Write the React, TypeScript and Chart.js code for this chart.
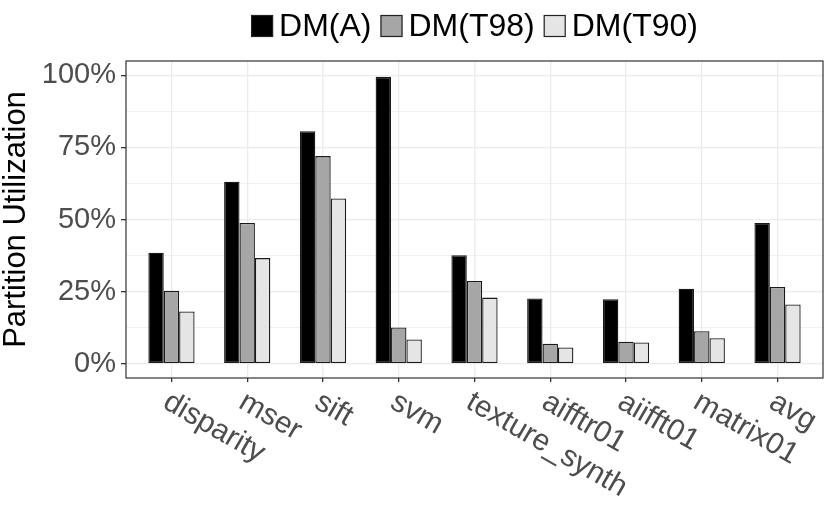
import { useEffect, useRef } from 'react'
import { Chart, registerables } from 'chart.js'

Chart.register(...registerables)

const categories = ['disparity', 'mser', 'sift', 'svm', 'texture_synth', 'aifftr01', 'aiifft01', 'matrix01', 'avg']
const seriesNames = ['DM(A)', 'DM(T98)', 'DM(T90)']
const dmA = [38.5, 63.1, 80.6, 99.5, 37.6, 22.6, 22.3, 26.0, 48.8]
const dmT98 = [25.3, 48.8, 72.0, 12.5, 28.7, 6.9, 7.6, 11.2, 26.6]
const dmT90 = [18.1, 36.6, 57.3, 8.4, 22.9, 5.6, 7.3, 8.8, 20.5]
const seriesColors = ['#000000', '#A6A6A6', '#E5E5E5']
const yTicks = [0, 12.5, 25, 37.5, 50, 62.5, 75, 87.5, 100]

const FONT = '"Liberation Sans", Arial, Helvetica, sans-serif'

// panel frame drawn over the bars, like ggplot's panel.border
const panelBorder = {
  id: 'panelBorder',
  afterDatasetsDraw(chart) {
    const { ctx, chartArea: a } = chart
    ctx.save()
    ctx.strokeStyle = '#333333'
    ctx.lineWidth = 1.2
    ctx.strokeRect(a.left, a.top, a.right - a.left, a.bottom - a.top)
    ctx.restore()
  },
}

// rotated x labels (text runs down to the right from the tick)
const slantedLabels = {
  id: 'slantedLabels',
  afterDraw(chart) {
    const { ctx } = chart
    const x = chart.scales.x
    const angle = (30 * Math.PI) / 180
    ctx.save()
    ctx.font = `30px ${FONT}`
    ctx.fillStyle = '#4D4D4D'
    ctx.textAlign = 'left'
    ctx.textBaseline = 'alphabetic'
    categories.forEach((c, i) => {
      const px = x.getPixelForValue(i + 1)
      ctx.save()
      ctx.translate(px - 10, 407)
      ctx.rotate(angle)
      ctx.fillText(c, 0, 0)
      ctx.restore()
    })
    ctx.restore()
  },
}

// legend on top: keys touching the labels, centred on the panel
const topLegend = {
  id: 'topLegend',
  afterDraw(chart) {
    const { ctx, chartArea: a } = chart
    const key = 22
    const gap = 6
    const spacing = 9
    ctx.save()
    ctx.font = `32px ${FONT}`
    const widths = seriesNames.map((s) => ctx.measureText(s).width)
    const total = widths.reduce((s, w) => s + key + gap + w, 0) + spacing * (seriesNames.length - 1)
    let x = (a.left + a.right) / 2 - total / 2
    const cy = 26
    seriesNames.forEach((s, i) => {
      ctx.fillStyle = seriesColors[i]
      ctx.fillRect(x, cy - key / 2, key, key)
      ctx.strokeStyle = '#222222'
      ctx.lineWidth = 1.2
      ctx.strokeRect(x + 0.5, cy - key / 2 + 0.5, key - 1, key - 1)
      x += key + gap
      ctx.fillStyle = '#000000'
      ctx.textAlign = 'left'
      ctx.textBaseline = 'middle'
      ctx.fillText(s, x, cy + 1)
      x += widths[i] + spacing
    })
    ctx.restore()
  },
}

export default function App() {
  const chartRef = useRef(null)
  const chartInstance = useRef(null)

  useEffect(() => {
    document.body.style.margin = '0'
    if (!chartRef.current) return
    if (chartInstance.current) chartInstance.current.destroy()

    const series = [dmA, dmT98, dmT90]
    chartInstance.current = new Chart(chartRef.current.getContext('2d'), {
      type: 'bar',
      data: {
        datasets: series.map((vals, s) => ({
          label: seriesNames[s],
          data: vals.map((v, i) => ({ x: i + 1, y: v })),
          backgroundColor: seriesColors[s],
          borderColor: '#1a1a1a',
          borderWidth: 1.3,
          borderSkipped: false,
          categoryPercentage: 0.61,
          barPercentage: 1.0,
        })),
      },
      options: {
        responsive: false,
        animation: false,
        layout: { padding: { top: 61, right: 7, left: 0, bottom: 0 } },
        font: { family: FONT },
        scales: {
          x: {
            type: 'linear',
            min: 0.4,
            max: 9.6,
            offset: false,
            afterBuildTicks: (scale) => {
              scale.ticks = categories.map((_, i) => ({ value: i + 1 }))
            },
            afterFit: (scale) => {
              scale.height = 130
            },
            ticks: { display: false },
            grid: { color: '#EBEBEB', lineWidth: 1.3, tickColor: '#333333', tickLength: 4, offset: false },
            border: { display: false },
          },
          y: {
            min: -5,
            max: 105,
            afterBuildTicks: (scale) => {
              scale.ticks = yTicks.map((v) => ({ value: v }))
            },
            afterFit: (scale) => {
              scale.width = 126
            },
            ticks: {
              autoSkip: false,
              padding: 5,
              color: '#4D4D4D',
              font: { size: 29, family: FONT },
              callback: (v) => (v % 25 === 0 ? `${v}%` : ''),
            },
            grid: {
              color: '#EBEBEB',
              lineWidth: (c) => (c.tick && c.tick.value % 25 === 0 ? 1.3 : 0.7),
              tickColor: (c) => (c.tick && c.tick.value % 25 === 0 ? '#333333' : 'rgba(0,0,0,0)'),
              tickLength: 5,
            },
            border: { display: false },
            title: {
              display: true,
              text: 'Partition Utilization',
              color: '#000000',
              font: { size: 31, family: FONT, lineHeight: 1.08 },
              padding: 0,
            },
          },
        },
        plugins: {
          legend: { display: false },
          tooltip: { enabled: false },
        },
      },
      plugins: [panelBorder, slantedLabels, topLegend],
    })

    return () => {
      if (chartInstance.current) {
        chartInstance.current.destroy()
        chartInstance.current = null
      }
    }
  }, [])

  return (
    <div style={{ width: 830, height: 508 }}>
      <canvas ref={chartRef} width={830} height={508} />
    </div>
  )
}
